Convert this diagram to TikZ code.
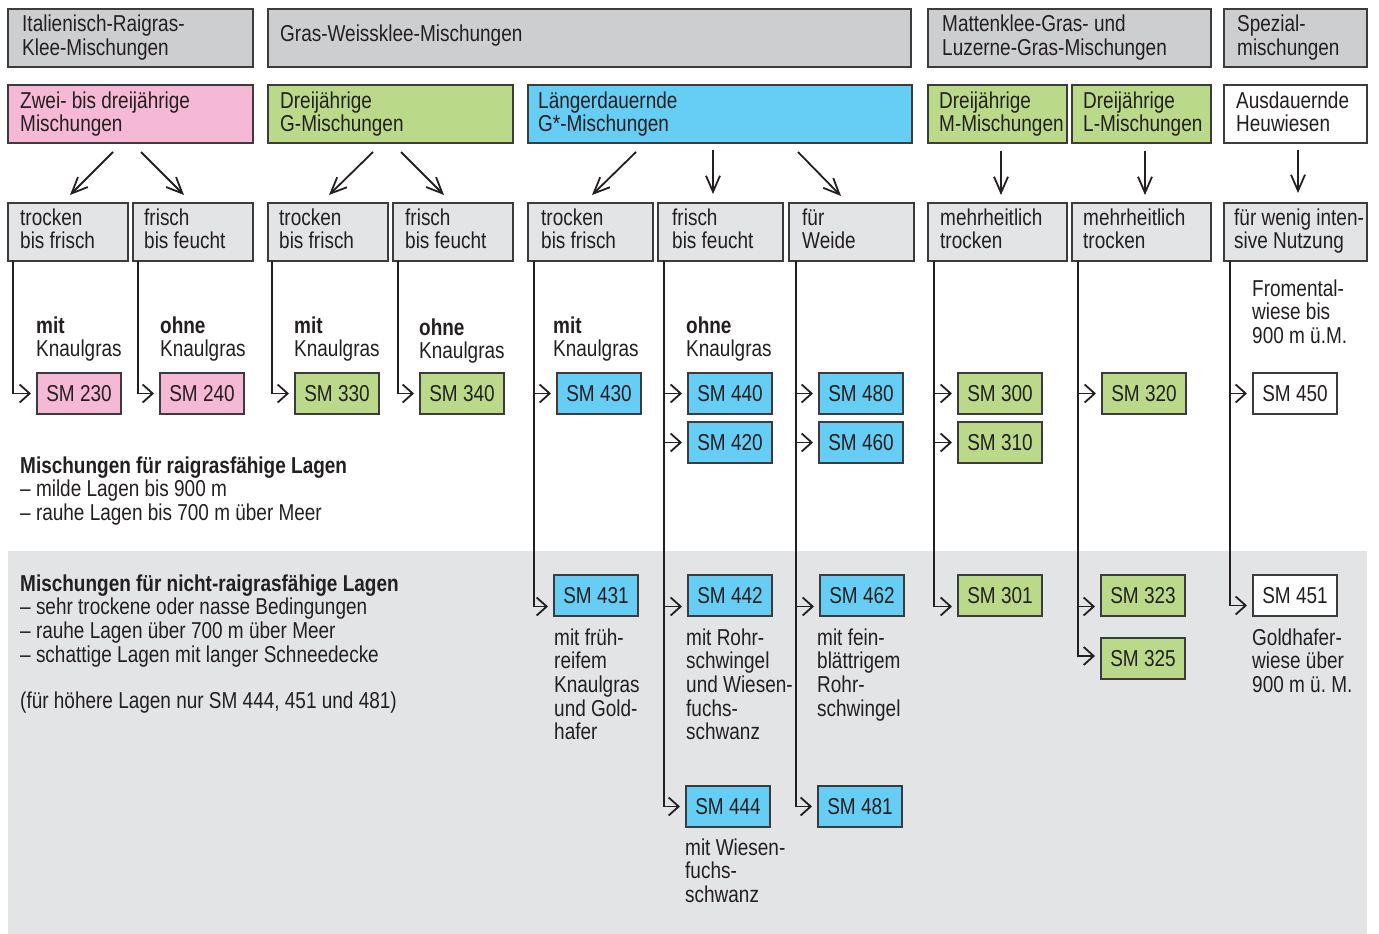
\documentclass[tikz,border=0pt]{standalone}
\usepackage{fontspec}
\setmainfont[FakeStretch=0.825]{Liberation Sans}
\usetikzlibrary{arrows.meta}
\definecolor{hdr}{HTML}{CDCED0}
\definecolor{lgr}{HTML}{E3E4E6}
\definecolor{pnk}{HTML}{F6B9D5}
\definecolor{grn}{HTML}{BBDA89}
\definecolor{blu}{HTML}{66CEF5}
\definecolor{bord}{HTML}{3C3C3E}
\definecolor{ink}{HTML}{231F20}
\frenchspacing
\newcommand\ml[1]{\begin{tabular}[t]{@{}l@{}}#1\end{tabular}}
\newcommand\rbox[6]{\node[bx,fill=#6,minimum width={#4-#2},minimum height={#5-#3}] (#1) at (#2,#3) {};}
\newcommand\tx[4]{\node[txt] (#1) at (#2,#3) {\ml{#4}};}
\newcommand\smbox[4]{\node[sm,fill=#4] (sm#1) at (#2,#3) {SM #1};}
\begin{document}
\begin{tikzpicture}[x=1pt,y=-1pt,font=\fontsize{23}{23.5}\selectfont\frenchspacing,
 bx/.style={draw=bord,line width=1.2pt,anchor=north west,inner sep=0,outer sep=0},
 sm/.style={bx,minimum width=84,minimum height=41,text=ink},
 txt/.style={anchor=base west,inner sep=0,text=ink},
 conn/.style={draw=ink,line width=1.8pt},
 side/.style={conn,-{Straight Barb[length=10pt,width=18pt]}},
 down/.style={conn,-{Straight Barb[length=16pt,width=14pt]}}]
\useasboundingbox (0,0) rectangle (1379,934);
\fill[lgr] (8,551) rectangle (1367,934);
% header row
\rbox{hA}{8}{9}{253}{67}{hdr}
\rbox{hB}{268}{9}{911}{67}{hdr}
\rbox{hC}{928}{9}{1211}{67}{hdr}
\rbox{hD}{1224}{9}{1367}{67}{hdr}
\tx{hAt}{22}{32}{Italienisch-Raigras-\\Klee-Mischungen}
\tx{hBt}{280}{42}{Gras-Weissklee-Mischungen}
\tx{hCt}{942}{32}{Mattenklee-Gras- und\\Luzerne-Gras-Mischungen}
\tx{hDt}{1237}{32}{Spezial-\\mischungen}
% group row
\rbox{gZ}{8}{85}{253}{143}{pnk}
\rbox{gG}{268}{85}{513}{143}{grn}
\rbox{gL}{528}{85}{912}{143}{blu}
\rbox{gM}{928}{85}{1067}{143}{grn}
\rbox{gLu}{1072}{85}{1211}{143}{grn}
\rbox{gA}{1224}{85}{1367}{143}{white}
\tx{gZt}{20}{108}{Zwei- bis dreijährige\\Mischungen}
\tx{gGt}{280}{108}{Dreijährige\\G-Mischungen}
\tx{gLt}{538}{108}{Längerdauernde\\G*-Mischungen}
\tx{gMt}{939}{108}{Dreijährige\\M-Mischungen}
\tx{gLut}{1083}{108}{Dreijährige\\L-Mischungen}
\tx{gAt}{1236}{108}{Ausdauernde\\Heuwiesen}
% condition row
\rbox{t1}{8}{203}{128}{261}{lgr}
\rbox{f1}{133}{203}{253}{261}{lgr}
\rbox{t2}{268}{203}{388}{261}{lgr}
\rbox{f2}{393}{203}{513}{261}{lgr}
\rbox{t3}{528}{203}{653}{261}{lgr}
\rbox{f3}{658}{203}{783}{261}{lgr}
\rbox{w}{789}{203}{914}{261}{lgr}
\rbox{m1}{928}{203}{1067}{261}{lgr}
\rbox{m2}{1072}{203}{1211}{261}{lgr}
\rbox{fw}{1224}{203}{1367}{261}{lgr}
\tx{t1t}{20}{225}{trocken\\bis frisch}
\tx{f1t}{144}{225}{frisch\\bis feucht}
\tx{t2t}{279}{225}{trocken\\bis frisch}
\tx{f2t}{405}{225}{frisch\\bis feucht}
\tx{t3t}{541}{225}{trocken\\bis frisch}
\tx{f3t}{672}{225}{frisch\\bis feucht}
\tx{wt}{802}{225}{für\\Weide}
\tx{m1t}{940}{225}{mehrheitlich\\trocken}
\tx{m2t}{1083}{225}{mehrheitlich\\trocken}
\tx{fwt}{1234}{225}{für wenig inten-\\sive Nutzung}
% labels
\tx{k1}{36}{333}{\textbf{mit}\\Knaulgras}
\tx{k2}{160}{333}{\textbf{ohne}\\Knaulgras}
\tx{k3}{294}{333}{\textbf{mit}\\Knaulgras}
\tx{k4}{419}{335}{\textbf{ohne}\\Knaulgras}
\tx{k5}{553}{333}{\textbf{mit}\\Knaulgras}
\tx{k6}{686}{333}{\textbf{ohne}\\Knaulgras}
\tx{fr}{1252}{296}{Fromental-\\wiese bis\\900 m ü.M.}
% SM boxes
\smbox{230}{37}{373}{pnk}
\smbox{240}{160}{373}{pnk}
\smbox{330}{295}{373}{grn}
\smbox{340}{420}{373}{grn}
\smbox{430}{557}{373}{blu}
\smbox{440}{688}{373}{blu}
\smbox{480}{819}{373}{blu}
\smbox{300}{958}{373}{grn}
\smbox{320}{1102}{373}{grn}
\smbox{450}{1253}{373}{white}
\smbox{420}{688}{422}{blu}
\smbox{460}{819}{422}{blu}
\smbox{310}{958}{422}{grn}
\smbox{431}{554}{575}{blu}
\smbox{442}{688}{575}{blu}
\smbox{462}{820}{575}{blu}
\smbox{301}{958}{575}{grn}
\smbox{323}{1101}{575}{grn}
\smbox{451}{1253}{575}{white}
\smbox{325}{1101}{638}{grn}
\smbox{444}{686}{786}{blu}
\smbox{481}{818}{786}{blu}
% descriptions
\tx{d431}{554}{645}{mit früh-\\reifem\\Knaulgras\\und Gold-\\hafer}
\tx{d442}{686}{645}{mit Rohr-\\schwingel\\und Wiesen-\\fuchs-\\schwanz}
\tx{d462}{817}{645}{mit fein-\\blättrigem\\Rohr-\\schwingel}
\tx{d444}{685}{855}{mit Wiesen-\\fuchs-\\schwanz}
\tx{d451}{1252}{645}{Goldhafer-\\wiese über\\900 m ü. M.}
% notes
\tx{n1}{20}{473}{\textbf{Mischungen für raigrasfähige Lagen}\\– milde Lagen bis 900 m\\– rauhe Lagen bis 700 m über Meer}
\tx{n2}{20}{591}{\textbf{Mischungen für nicht-raigrasfähige Lagen}\\– sehr trockene oder nasse Bedingungen\\– rauhe Lagen über 700 m über Meer\\– schattige Lagen mit langer Schneedecke}
\tx{n3}{20}{708}{(für höhere Lagen nur SM 444, 451 und 481)}
% top arrows
\draw[down] ([xshift=-17.5,yshift=-9]gZ.south) -- ([xshift=2,yshift=8]t1.north);
\draw[down] ([xshift=10.5,yshift=-9]gZ.south) -- ([xshift=-9,yshift=8]f1.north);
\draw[down] ([xshift=-17.5,yshift=-9]gG.south) -- ([xshift=1,yshift=8]t2.north);
\draw[down] ([xshift=10.5,yshift=-9]gG.south) -- ([xshift=-9,yshift=8]f2.north);
\draw[down] ([xshift=-84,yshift=-9]gL.south) -- ([xshift=1.5,yshift=8]t3.north);
\draw[down] ([xshift=-7,yshift=-7]gL.south) -- ([xshift=-7.5,yshift=9]f3.north);
\draw[down] ([xshift=78,yshift=-9]gL.south) -- ([xshift=-10.5,yshift=7]w.north);
\draw[down] ([xshift=3.5,yshift=-8]gM.south) -- ([xshift=3.5,yshift=8]m1.north);
\draw[down] ([xshift=3.5,yshift=-8]gLu.south) -- ([xshift=3.5,yshift=8]m2.north);
\draw[down] ([xshift=2.5,yshift=-7]gA.south) -- ([xshift=2.5,yshift=10]fw.north);
% side arrows
\draw[side] ([xshift=5]t1.south west) |- ([xshift=-6]sm230.west);
\draw[side] ([xshift=5]f1.south west) |- ([xshift=-6]sm240.west);
\draw[side] ([xshift=4]t2.south west) |- ([xshift=-6]sm330.west);
\draw[side] ([xshift=5]f2.south west) |- ([xshift=-6]sm340.west);
\draw[side] ([xshift=6]t3.south west) |- ([xshift=-6]sm430.west);
\draw[side] ([xshift=6]t3.south west) |- ([xshift=-6,yshift=-11]sm431.west);
\draw[side] ([xshift=6]f3.south west) |- ([xshift=-6]sm440.west);
\draw[side] ([xshift=6]f3.south west) |- ([xshift=-6]sm420.west);
\draw[side] ([xshift=6]f3.south west) |- ([xshift=-6,yshift=-11]sm442.west);
\draw[side] ([xshift=6]f3.south west) |- ([xshift=-6]sm444.west);
\draw[side] ([xshift=7]w.south west) |- ([xshift=-6]sm480.west);
\draw[side] ([xshift=7]w.south west) |- ([xshift=-6]sm460.west);
\draw[side] ([xshift=7]w.south west) |- ([xshift=-6,yshift=-11]sm462.west);
\draw[side] ([xshift=7]w.south west) |- ([xshift=-6]sm481.west);
\draw[side] ([xshift=6]m1.south west) |- ([xshift=-6]sm300.west);
\draw[side] ([xshift=6]m1.south west) |- ([xshift=-6]sm310.west);
\draw[side] ([xshift=6]m1.south west) |- ([xshift=-6,yshift=-11]sm301.west);
\draw[side] ([xshift=6]m2.south west) |- ([xshift=-6]sm320.west);
\draw[side] ([xshift=6]m2.south west) |- ([xshift=-6,yshift=-11]sm323.west);
\draw[side] ([xshift=6]m2.south west) |- ([xshift=-6,yshift=2.5]sm325.west);
\draw[side] ([xshift=6]fw.south west) |- ([xshift=-6]sm450.west);
\draw[side] ([xshift=6]fw.south west) |- ([xshift=-6,yshift=-10]sm451.west);
\end{tikzpicture}
\end{document}
